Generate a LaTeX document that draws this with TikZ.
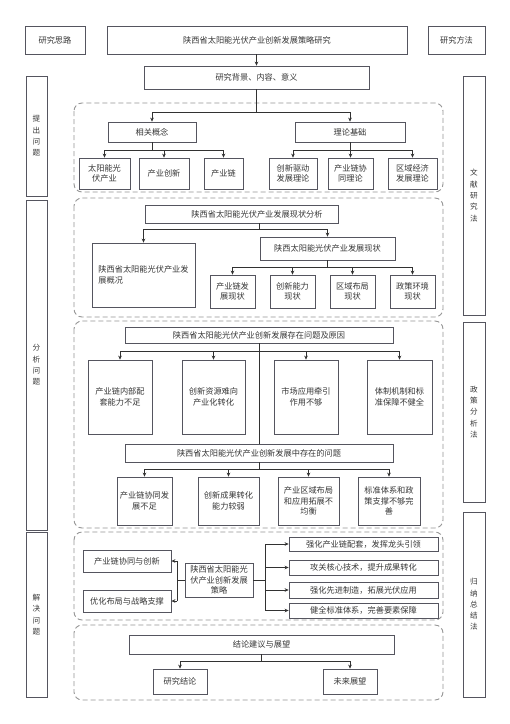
\documentclass[tikz,border=0pt]{standalone}
\usepackage{fontspec}
\setmainfont{Noto Sans CJK SC}
\usetikzlibrary{arrows.meta}
\definecolor{boxc}{RGB}{85,85,95}
\definecolor{txtc}{RGB}{55,55,55}
\definecolor{regc}{RGB}{150,150,150}
\definecolor{linec}{RGB}{50,50,50}
\newcommand{\bx}[7][]{\node[box,minimum width={(#5-#3)*1pt},minimum height={(#6-#4)*1pt},#1] (#2) at ({(#3+#5)/2},{(#4+#6)/2}) {#7};}
\begin{document}
\begin{tikzpicture}[x=1pt,y=-1pt,
  box/.style={draw=boxc,line width=0.75pt,fill=white,inner sep=1pt,align=center,
    font=\fontsize{8.2}{10.6}\selectfont,text=txtc},
  vcol/.style={font=\fontsize{7.6}{11.3}\selectfont},
  region/.style={draw=regc,dash pattern=on 5pt off 3pt,line width=0.9pt,rounded corners=8pt},
  ln/.style={draw=linec,line width=0.7pt},
  arr/.style={ln,-{Stealth[length=4pt,width=3.6pt]}}]
\useasboundingbox[fill=white] (0,0) rectangle (510,724);

% dashed regions
\draw[region] (74,103) rectangle (443,192);
\draw[region] (74,198) rectangle (443,317);
\draw[region] (74,321) rectangle (443,528);
\draw[region] (74,532) rectangle (443,620);
\draw[region] (74,625) rectangle (443,700);

% top row
\bx{silu}{25}{26}{85}{54}{研究思路}
\bx{title}{107}{26}{407}{54}{陕西省太阳能光伏产业创新发展策略研究}
\bx{fangfa}{428}{26}{485}{54}{研究方法}
\bx{bg}{144}{66}{369}{89}{研究背景、内容、意义}

% side columns
\bx[vcol]{L1}{26}{76}{47}{196}{提\\出\\问\\题}
\bx[vcol]{L2}{26}{200}{47}{530}{分\\析\\问\\题}
\bx[vcol]{L3}{26}{532}{47}{697}{解\\决\\问\\题}
\bx[vcol]{R1}{463}{76}{485}{315}{文\\献\\研\\究\\法}
\bx[vcol]{R2}{463}{322}{485}{502}{政\\策\\分\\析\\法}
\bx[vcol]{R3}{463}{512}{485}{697}{归\\纳\\总\\结\\法}

% section 1
\bx{gn}{108}{122}{196}{142}{相关概念}
\bx{ll}{295}{122}{405}{142}{理论基础}
\bx{c1}{79}{158}{130}{189}{太阳能光\\伏产业}
\bx{c2}{139}{158}{189}{189}{产业创新}
\bx{c3}{204}{158}{243}{189}{产业链}
\bx{c4}{269}{158}{317}{189}{创新驱动\\发展理论}
\bx{c5}{328}{158}{373}{189}{产业链协\\同理论}
\bx{c6}{388}{158}{437}{189}{区域经济\\发展理论}
\coordinate (b1) at (0,112);
\coordinate (b2) at (0,150);
\draw[arr] (title.south -| bg.north) -- (bg.north);
\draw[ln] (bg.south) -- (bg.south |- b1);
\draw[ln] (gn.north |- b1) -- (ll.north |- b1);
\draw[arr] (gn.north |- b1) -- (gn.north);
\draw[arr] (ll.north |- b1) -- (ll.north);
\draw[ln] (gn.south) -- (gn.south |- b2);
\draw[ln] (c1.north |- b2) -- (c3.north |- b2);
\foreach \c in {c1,c2,c3} \draw[arr] (\c.north |- b2) -- (\c.north);
\draw[ln] (ll.south) -- (ll.south |- b2);
\draw[ln] (c4.north |- b2) -- (c6.north |- b2);
\foreach \c in {c4,c5,c6} \draw[arr] (\c.north |- b2) -- (\c.north);

% section 2
\bx{sa}{145}{205}{338}{223}{\hspace*{31pt}陕西省太阳能光伏产业发展现状分析}
\bx[align=left]{sb}{92}{243}{195}{307}{陕西省太阳能光伏产业发\\展概况}
\bx{sc}{260}{237}{395}{260}{陕西太阳能光伏产业发展现状}
\bx{d1}{210}{275}{255}{308}{产业链发\\展现状}
\bx{d2}{270}{275}{315}{308}{创新能力\\现状}
\bx{d3}{330}{275}{375}{308}{区域布局\\现状}
\bx{d4}{390}{275}{435}{308}{政策环境\\现状}
\coordinate (v2) at (259,223);
\coordinate (b3) at (0,229);
\coordinate (b4) at (0,267);
\draw[ln] (v2) -- (v2 |- b3);
\draw[ln] (sb.north |- b3) -- (sc.north |- b3);
\draw[arr] (sb.north |- b3) -- (sb.north);
\draw[arr] (sc.north |- b3) -- (sc.north);
\draw[ln] (sc.south) -- (sc.south |- b4);
\draw[ln] (d1.north |- b4) -- (d4.north |- b4);
\foreach \c in {d1,d2,d3,d4} \draw[arr] (\c.north |- b4) -- (\c.north);

% section 3
\bx{ta}{125}{327}{393}{343}{陕西省太阳能光伏产业创新发展存在问题及原因}
\bx{p1}{88}{360}{152}{434}{产业链内部配\\套能力不足}
\bx{p2}{182}{360}{245}{434}{创新资源难向\\产业化转化}
\bx{p3}{274}{360}{338}{434}{市场应用牵引\\作用不够}
\bx{p4}{367}{360}{432}{434}{体制机制和标\\准保障不健全}
\bx{tb}{125}{444}{393}{462}{陕西省太阳能光伏产业创新发展中存在的问题}
\bx{q1}{117}{477}{172}{525}{产业链协同发\\展不足}
\bx{q2}{198}{477}{259}{525}{创新成果转化\\能力较弱}
\bx{q3}{278}{477}{339}{525}{产业区域布局\\和应用拓展不\\均衡}
\bx{q4}{358}{477}{420}{525}{标准体系和政\\策支撑不够完\\善}
\coordinate (b5) at (0,351);
\coordinate (b6) at (0,469);
\draw[ln] (ta.south) -- (tb.north);
\draw[ln] (p1.north |- b5) -- (p4.north |- b5);
\foreach \c in {p1,p2,p3,p4} \draw[arr] (\c.north |- b5) -- (\c.north);
\draw[ln] (tb.south) -- (tb.south |- b6);
\draw[ln] (q1.north |- b6) -- (q4.north |- b6);
\foreach \c in {q1,q2,q3,q4} \draw[arr] (\c.north |- b6) -- (\c.north);

% section 4
\bx{st}{185}{563}{253}{597}{陕西省太阳能光\\伏产业创新发展\\策略}
\bx{l1}{83}{550}{171}{572}{产业链协同与创新}
\bx{l2}{83}{590}{171}{612}{优化布局与战略支撑}
\bx{r1}{289}{537}{438}{551}{强化产业链配套，发挥龙头引领}
\bx{r2}{289}{560}{438}{575}{攻关核心技术，提升成果转化}
\bx{r3}{289}{582}{438}{598}{强化先进制造，拓展光伏应用}
\bx{r4}{289}{603}{438}{618}{健全标准体系，完善要素保障}
\coordinate (xl) at (177,0);
\coordinate (xr) at (265,0);
\draw[ln] (st.west) -- (st.west -| xl);
\draw[ln] (l1.east -| xl) -- (l2.east -| xl);
\draw[arr] (l1.east -| xl) -- (l1.east);
\draw[arr] (l2.east -| xl) -- (l2.east);
\draw[ln] (st.east) -- (st.east -| xr);
\draw[ln] (r1.west -| xr) -- (r4.west -| xr);
\foreach \c in {r1,r2,r3,r4} \draw[arr] (\c.west -| xr) -- (\c.west);

% section 5
\bx{s5}{129}{635}{394}{654}{结论建议与展望}
\bx{e1}{153}{669}{207}{694}{研究结论}
\bx{e2}{323}{669}{377}{694}{未来展望}
\coordinate (b7) at (0,661);
\draw[ln] (s5.south) -- (s5.south |- b7);
\draw[ln] (e1.north |- b7) -- (e2.north |- b7);
\draw[arr] (e1.north |- b7) -- (e1.north);
\draw[arr] (e2.north |- b7) -- (e2.north);
\end{tikzpicture}
\end{document}
